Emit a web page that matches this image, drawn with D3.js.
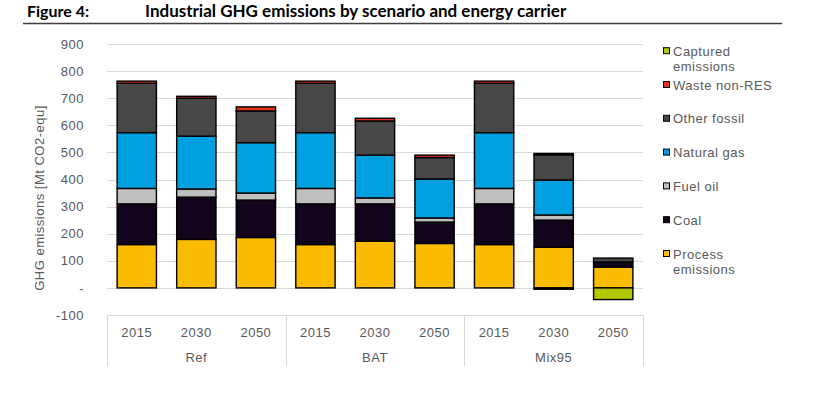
<!DOCTYPE html>
<html>
<head>
<meta charset="utf-8">
<script src="https://cdn.jsdelivr.net/npm/d3@7"></script>
<style>
  body { margin: 0; background: #fff; }
  text { font-family: "Liberation Sans", Arial, sans-serif; }
  .title { font-family: Lato, "Liberation Sans", sans-serif; font-weight: bold; font-size: 17px; fill: #000; }
  .tick-label, .legend-label, .ytitle { fill: #595959; font-size: 13px; letter-spacing: 0.5px; }
</style>
</head>
<body>
<svg id="chart" width="814" height="399"></svg>
<script>
// categories
var scenarios = ["Ref", "BAT", "Mix95"];
var years = ["2015", "2030", "2050"];

// series values [Mt CO2-equ], order: Ref 2015..2050, BAT 2015..2050, Mix95 2015..2050
var processEmissions = [160, 179, 186, 160, 172, 164, 160, 150, 76];
var coal            = [150, 156, 138, 150, 138, 79, 150, 100, 20];
var fuelOil         = [57, 30, 26, 57, 22, 15, 57, 19, 0];
var naturalGas      = [206, 195, 186, 206, 158, 144, 206, 129, 0];
var otherFossil     = [182, 140, 117, 182, 126, 79, 182, 93, 14];
var wasteNonRES     = [8, 7, 15, 8, 10, 9, 8, 5, 0];
var captured        = [0, 0, 0, 0, 0, 0, 0, -5, -43];

var yTicks = [-100, 0, 100, 200, 300, 400, 500, 600, 700, 800, 900];

var seriesNames = ["Process emissions", "Coal", "Fuel oil", "Natural gas", "Other fossil", "Waste non-RES", "Captured emissions"];
var seriesValues = [processEmissions, coal, fuelOil, naturalGas, otherFossil, wasteNonRES, captured];
var colors = ["#fabb00", "#12041a", "#bfbfbf", "#009fe0", "#474747", "#e4331b", "#b2c800"];

// table for d3.stack
var table = [];
scenarios.forEach(function(s, si) {
  years.forEach(function(yr, yi) {
    var row = {key: s + "-" + yr, scenario: s, year: yr};
    seriesNames.forEach(function(n, k) { row[n] = seriesValues[k][si * 3 + yi]; });
    table.push(row);
  });
});

var svg = d3.select("#chart");

// title
svg.append("text").attr("class", "title").attr("x", 27).attr("y", 17)
  .style("font-size", "16px").text("Figure 4:");
svg.append("text").attr("class", "title").attr("x", 145).attr("y", 17)
  .text("Industrial GHG emissions by scenario and energy carrier");
svg.append("line").attr("x1", 23).attr("x2", 782).attr("y1", 23.5).attr("y2", 23.5)
  .attr("stroke", "#404040").attr("stroke-width", 1.3);

var x = d3.scaleBand()
  .domain(table.map(function(d) { return d.key; }))
  .range([107, 643])
  .paddingInner(0.34)
  .paddingOuter(0.17);

var y = d3.scaleLinear()
  .domain([-100, 900])
  .range([315, 44]);

// gridlines
svg.append("g").selectAll("line")
  .data(yTicks.filter(function(t) { return t > -100; }))
  .enter().append("line")
  .attr("x1", 107).attr("x2", 643)
  .attr("y1", function(d) { return Math.round(y(d)) + 0.5; })
  .attr("y2", function(d) { return Math.round(y(d)) + 0.5; })
  .attr("stroke", "#d9d9d9").attr("stroke-width", 1);

// y axis labels
var yAxis = d3.axisLeft(y)
  .tickValues(yTicks)
  .tickSize(0)
  .tickPadding(0)
  .tickFormat(function(d) { return d === 0 ? "-" : d; });
var yg = svg.append("g").attr("transform", "translate(84,0)").call(yAxis);
yg.select(".domain").remove();
yg.selectAll("text").attr("class", "tick-label").attr("font-family", null).attr("font-size", null);

svg.append("text").attr("class", "ytitle")
  .attr("transform", "translate(44,198) rotate(-90)")
  .attr("text-anchor", "middle")
  .text("GHG emissions [Mt CO2-equ]");

// stacked bars
var stack = d3.stack().keys(seriesNames).offset(d3.stackOffsetDiverging);
var layers = stack(table);

svg.append("g").selectAll("g")
  .data(layers)
  .enter().append("g")
  .attr("fill", function(d, i) { return colors[i]; })
  .selectAll("rect")
  .data(function(d) { return d.filter(function(p) { return p[1] !== p[0]; }); })
  .enter().append("rect")
  .attr("x", function(d) { return x(d.data.key); })
  .attr("width", x.bandwidth())
  .attr("y", function(d) { return y(Math.max(d[0], d[1])); })
  .attr("height", function(d) { return Math.abs(y(d[0]) - y(d[1])); })
  .attr("stroke", "#000")
  .attr("stroke-width", 1.4);

// category axis box
var xg = svg.append("g");
xg.append("line").attr("x1", 107).attr("x2", 643).attr("y1", 315.5).attr("y2", 315.5)
  .attr("stroke", "#d9d9d9");
var groupEdges = [0, 3, 6, 9].map(function(i) {
  return i < 9 ? x(table[i].key) - x.step() * x.paddingInner() / 2 : 643;
});
groupEdges[0] = 107;
xg.selectAll(".sep").data(groupEdges).enter().append("line")
  .attr("x1", function(d) { return Math.round(d) + 0.5; })
  .attr("x2", function(d) { return Math.round(d) + 0.5; })
  .attr("y1", 315).attr("y2", 366)
  .attr("stroke", "#d9d9d9");

xg.selectAll(".year").data(table).enter().append("text")
  .attr("class", "tick-label")
  .attr("text-anchor", "middle")
  .attr("x", function(d) { return x(d.key) + x.bandwidth() / 2; })
  .attr("y", 336.5)
  .text(function(d) { return d.year; });

xg.selectAll(".scen").data(scenarios).enter().append("text")
  .attr("class", "tick-label")
  .attr("text-anchor", "middle")
  .attr("x", function(d, i) { return (groupEdges[i] + groupEdges[i + 1]) / 2; })
  .attr("y", 361.5)
  .text(function(d) { return d; });

// legend (reverse of stack order)
var legendItems = [
  {lines: ["Captured", "emissions"], color: colors[6]},
  {lines: ["Waste non-RES"], color: colors[5]},
  {lines: ["Other fossil"], color: colors[4]},
  {lines: ["Natural gas"], color: colors[3]},
  {lines: ["Fuel oil"], color: colors[2]},
  {lines: ["Coal"], color: colors[1]},
  {lines: ["Process", "emissions"], color: colors[0]}
];
var lg = svg.append("g").selectAll("g")
  .data(legendItems)
  .enter().append("g")
  .attr("transform", function(d, i) { return "translate(0," + (55.7 + i * 33.8) + ")"; });
lg.append("rect")
  .attr("x", 663.5).attr("y", -8)
  .attr("width", 6).attr("height", 6)
  .attr("fill", function(d) { return d.color; })
  .attr("stroke", "#000").attr("stroke-width", 1);
lg.append("text")
  .attr("class", "legend-label")
  .attr("x", 673)
  .selectAll("tspan")
  .data(function(d) { return d.lines; })
  .enter().append("tspan")
  .attr("x", 673)
  .attr("y", function(d, i) { return i * 15; })
  .text(function(d) { return d; });
</script>
</body>
</html>
